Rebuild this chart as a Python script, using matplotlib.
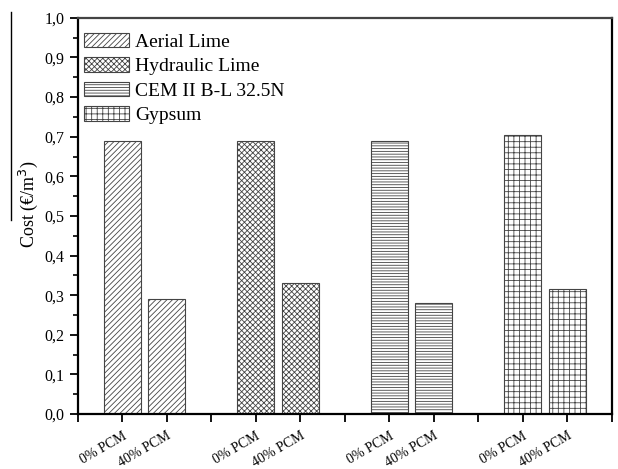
import matplotlib.pyplot as plt
from matplotlib.lines import Line2D
from matplotlib.ticker import MultipleLocator, FuncFormatter

# data
binders = ["Aerial Lime", "Hydraulic Lime", "CEM II B-L 32.5N", "Gypsum"]
pcm_labels = ["0% PCM", "40% PCM"]
cost_0pcm = [0.69, 0.69, 0.69, 0.705]
cost_40pcm = [0.29, 0.33, 0.28, 0.315]
hatches = ["//////", "xxxxxx", "------", "+++"]

plt.rcParams['font.family'] = ['Liberation Serif', 'DejaVu Serif']
plt.rcParams['hatch.linewidth'] = 0.6

fig = plt.figure(figsize=(6.18, 4.69), dpi=100)
ax = fig.add_axes([0.126, 0.117, 0.864, 0.845])

tick_pos = []
tick_lab = []
for i, name in enumerate(binders):
    x0 = 3 * i + 1
    x1 = 3 * i + 2
    ax.bar(x0, cost_0pcm[i], width=0.83, facecolor='white', edgecolor='#444444',
           hatch=hatches[i], linewidth=0.8, label=name)
    ax.bar(x1, cost_40pcm[i], width=0.83, facecolor='white', edgecolor='#444444',
           hatch=hatches[i], linewidth=0.8)
    tick_pos += [x0, x1]
    tick_lab += pcm_labels

ax.set_xlim(0, 12)
ax.set_ylim(0, 1.0)
ax.yaxis.set_major_locator(MultipleLocator(0.1))
ax.yaxis.set_minor_locator(MultipleLocator(0.05))
ax.yaxis.set_major_formatter(FuncFormatter(lambda v, p: f"{v:.1f}".replace('.', ',')))

ax.set_xticks(range(0, 13))
labels = []
for t in range(0, 13):
    if t in tick_pos:
        labels.append(tick_lab[tick_pos.index(t)])
    else:
        labels.append("")
ax.set_xticklabels(labels, rotation=30, ha='right', rotation_mode='anchor')

ax.tick_params(axis='both', which='major', direction='out', length=6, width=1.3,
               color='black')
ax.tick_params(axis='y', labelsize=11.5)
ax.tick_params(axis='x', labelsize=10, pad=5)
ax.tick_params(axis='y', which='minor', direction='out', length=3.5, width=1.2)

for side in ['left', 'bottom', 'right']:
    ax.spines[side].set_linewidth(1.6)
ax.spines['top'].set_linewidth(1.6)
ax.spines['top'].set_color('#444444')

ax.set_ylabel("Cost (€/m$^3$)", fontsize=13)
ax.yaxis.set_label_coords(-0.07, 0.53)

leg = ax.legend(loc='upper left', bbox_to_anchor=(-0.006, 0.987), frameon=False,
                fontsize=14, handlelength=2.3, handleheight=0.77, handletextpad=0.3,
                labelspacing=0.33, borderaxespad=0.1)

# stray vertical line at the left edge of the original image
fig.add_artist(Line2D([11 / 618, 11 / 618], [1 - 12 / 469, 1 - 220 / 469],
                      color='black', linewidth=1.0))

fig.savefig("out.png", dpi=100)
